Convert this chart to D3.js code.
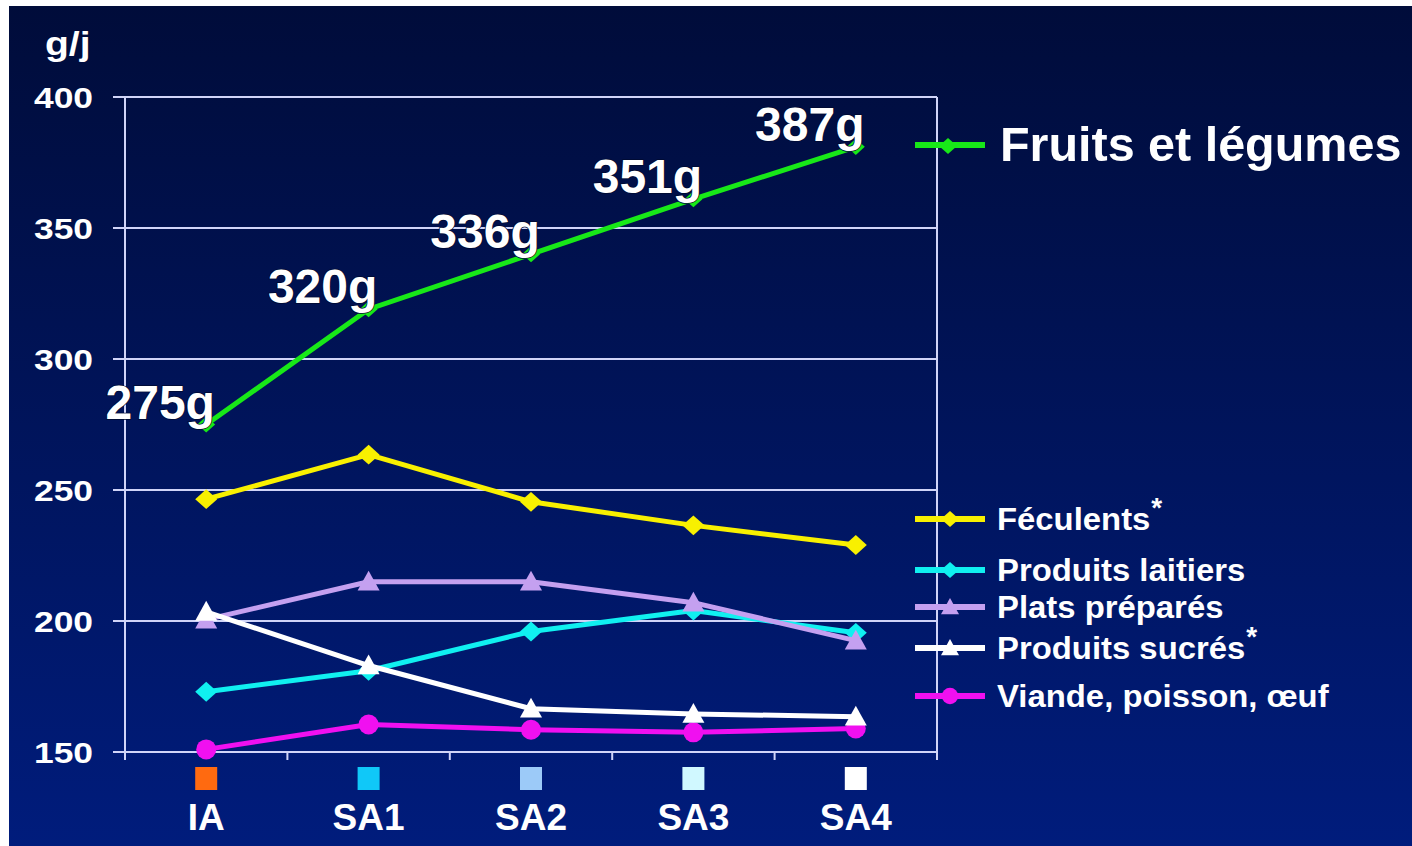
<!DOCTYPE html>
<html>
<head>
<meta charset="utf-8">
<script src="https://cdn.jsdelivr.net/npm/d3@7"></script>
<style>
  html, body { margin: 0; padding: 0; background: #ffffff; }
  svg { display: block; }
  text { font-family: "Liberation Sans", Arial, sans-serif; font-weight: bold; fill: #ffffff; }
</style>
</head>
<body>
<svg id="chart" width="1412" height="846"></svg>
<script>
const categories = ["IA", "SA1", "SA2", "SA3", "SA4"];
const categoryColors = ["#ff6a10", "#10c8f8", "#9ccaf8", "#d0f8ff", "#ffffff"];
const yTicks = [150, 200, 250, 300, 350, 400];

const fruitsLegumes = [275, 319, 340, 361, 381];
const fruitsLabels = ["275g", "320g", "336g", "351g", "387g"];
const feculents = [246.5, 263.5, 245.5, 236.5, 229];
const produitsLaitiers = [173, 181, 196, 204, 195.5];
const platsPrepares = [200.5, 215, 215, 207, 192.5];
const produitsSucres = [203.5, 183, 166.5, 164.5, 163.5];
const viandePoissonOeuf = [151, 160.5, 158.5, 157.5, 159];

const series = [
  { name: "Féculents", values: feculents, color: "#f8f000", marker: "diamond", star: true },
  { name: "Produits laitiers", values: produitsLaitiers, color: "#10f0f0", marker: "diamond" },
  { name: "Plats préparés", values: platsPrepares, color: "#c4a0f0", marker: "triangle" },
  { name: "Produits sucrés", values: produitsSucres, color: "#ffffff", marker: "triangle", star: true },
  { name: "Viande, poisson, œuf", values: viandePoissonOeuf, color: "#f010f0", marker: "circle" }
];

const svg = d3.select("#chart");
const defs = svg.append("defs");
const grad = defs.append("linearGradient").attr("id", "bg").attr("x1", 0).attr("y1", 0).attr("x2", 0).attr("y2", 1);
grad.append("stop").attr("offset", "0%").attr("stop-color", "#000c3a");
grad.append("stop").attr("offset", "100%").attr("stop-color", "#001c7c");

svg.append("rect").attr("x", 9).attr("y", 6).attr("width", 1403).attr("height", 840).attr("fill", "url(#bg)");

const margin = { left: 125, right: 937, top: 97, bottom: 752 };
const x = d3.scaleBand().domain(categories).range([margin.left, margin.right]);
const y = d3.scaleLinear().domain([150, 400]).range([margin.bottom, margin.top]);
const axisColor = "#d0d4f8";

// gridlines
svg.append("g").selectAll("line").data(yTicks).join("line")
  .attr("x1", margin.left - 12).attr("x2", margin.right)
  .attr("y1", d => y(d)).attr("y2", d => y(d))
  .attr("stroke", axisColor).attr("stroke-width", 2);

// y axis line and right border
svg.append("line").attr("x1", margin.left).attr("x2", margin.left).attr("y1", margin.top).attr("y2", margin.bottom + 8)
  .attr("stroke", axisColor).attr("stroke-width", 2);
svg.append("line").attr("x1", margin.right).attr("x2", margin.right).attr("y1", margin.top).attr("y2", margin.bottom + 8)
  .attr("stroke", axisColor).attr("stroke-width", 2);

// x axis boundary ticks
const boundaries = categories.map(c => x(c)).concat([margin.right]);
svg.append("g").selectAll("line").data(boundaries).join("line")
  .attr("x1", d => d).attr("x2", d => d).attr("y1", margin.bottom).attr("y2", margin.bottom + 8)
  .attr("stroke", axisColor).attr("stroke-width", 2);

// y tick labels
svg.append("g").selectAll("text").data(yTicks).join("text")
  .attr("transform", d => `translate(93,${y(d) + 11}) scale(1.18,1)`)
  .attr("text-anchor", "end").attr("font-size", 30)
  .text(d => d);

svg.append("text").attr("transform", "translate(45,55) scale(1.15,1)").attr("font-size", 34).text("g/j");

// x category squares & labels
const cx = c => x(c) + x.bandwidth() / 2;
svg.append("g").selectAll("rect").data(categories).join("rect")
  .attr("x", d => cx(d) - 11).attr("y", 767).attr("width", 22).attr("height", 23)
  .attr("fill", (d, i) => categoryColors[i]);
svg.append("g").selectAll("text").data(categories).join("text")
  .attr("x", d => cx(d)).attr("y", 830).attr("text-anchor", "middle").attr("font-size", 37)
  .text(d => d);

function drawMarker(g, type, px, py, color, size) {
  if (type === "diamond") {
    const hw = size / 2, hh = size * 0.45;
    g.append("path").attr("d", `M${px - hw},${py}L${px},${py - hh}L${px + hw},${py}L${px},${py + hh}Z`)
      .attr("fill", color);
  } else if (type === "triangle") {
    const hw = size / 2;
    g.append("path").attr("d", `M${px - hw},${py + size * 0.4}L${px},${py - size * 0.5}L${px + hw},${py + size * 0.4}Z`)
      .attr("fill", color);
  } else {
    g.append("circle").attr("cx", px).attr("cy", py).attr("r", size / 2.2).attr("fill", color);
  }
}

const line = d3.line().x((d, i) => cx(categories[i])).y(d => y(d));

const drawOrder = [4, 1, 2, 3, 0];
drawOrder.forEach(k => {
  const s = series[k];
  const g = svg.append("g");
  g.append("path").datum(s.values).attr("d", line).attr("fill", "none")
    .attr("stroke", s.color).attr("stroke-width", 5).attr("stroke-linejoin", "round");
  s.values.forEach((v, i) => drawMarker(g, s.marker, cx(categories[i]), y(v), s.color, 22));
});

// fruits et légumes
const gf = svg.append("g");
gf.append("path").datum(fruitsLegumes).attr("d", line).attr("fill", "none")
  .attr("stroke", "#18e818").attr("stroke-width", 5);
fruitsLegumes.forEach((v, i) => drawMarker(gf, "diamond", cx(categories[i]), y(v), "#18e818", 18));
gf.selectAll("text").data(fruitsLegumes).join("text")
  .attr("x", (d, i) => cx(categories[i]) - 46)
  .attr("y", d => y(d) - 6)
  .attr("text-anchor", "middle").attr("font-size", 48)
  .attr("stroke", "#000a30").attr("stroke-width", 1.5).attr("paint-order", "stroke")
  .text((d, i) => fruitsLabels[i]);

// legend - fruits
const lgF = svg.append("g");
lgF.append("line").attr("x1", 915).attr("x2", 985).attr("y1", 145).attr("y2", 145)
  .attr("stroke", "#18e818").attr("stroke-width", 6);
drawMarker(lgF, "diamond", 948, 146, "#18e818", 18);
lgF.append("text").attr("transform", "translate(1000,161) scale(1.01,1)").attr("font-size", 48).text("Fruits et légumes");

// legend - others
const legendY = [519, 570, 607, 648, 696];
const lg = svg.append("g");
series.forEach((s, i) => {
  const ly = legendY[i];
  lg.append("line").attr("x1", 915).attr("x2", 985).attr("y1", ly).attr("y2", ly)
    .attr("stroke", s.color).attr("stroke-width", 6);
  drawMarker(lg, s.marker, 950, ly, s.color, 18);
  const t = lg.append("text").attr("transform", `translate(997,${ly + 11}) scale(1.06,1)`)
    .attr("font-size", 31).text(s.name);
  if (s.star) {
    const w = t.node().getComputedTextLength() * 1.06;
    lg.append("text").attr("x", 997 + w + 1).attr("y", ly - 2).attr("font-size", 28).text("*");
  }
});
</script>
</body>
</html>
